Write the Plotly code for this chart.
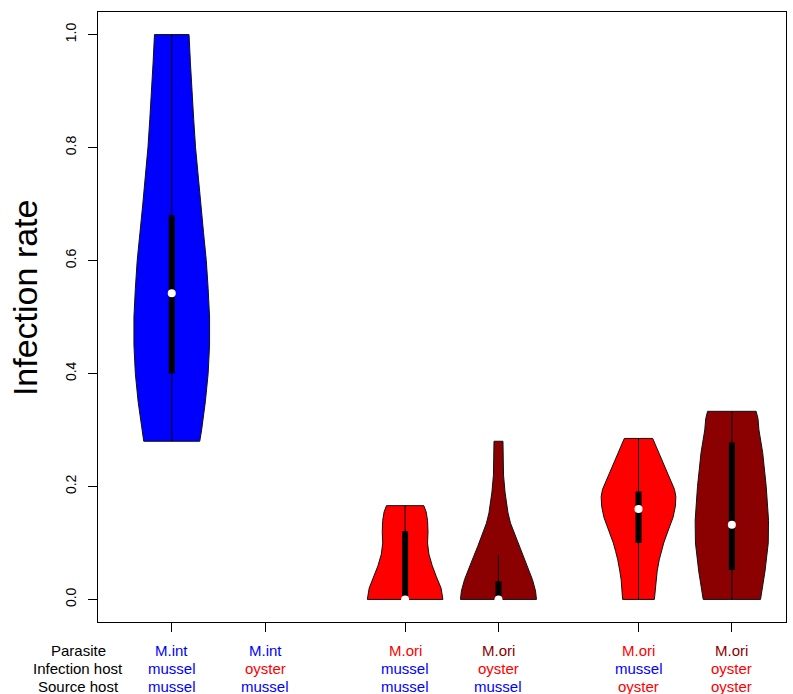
import plotly.graph_objects as go

# ---------------- data ----------------
positions = [1, 2, 3.5, 4.5, 6, 7]
parasite = ["M.int", "M.int", "M.ori", "M.ori", "M.ori", "M.ori"]
infection_host = ["mussel", "oyster", "mussel", "oyster", "mussel", "oyster"]
source_host = ["mussel", "mussel", "mussel", "mussel", "oyster", "oyster"]

BLUE, RED, DARKRED = "#0000FF", "#FF0000", "#8B0000"
host_color = {"mussel": BLUE, "oyster": RED}
parasite_colors = [BLUE, BLUE, RED, DARKRED, RED, DARKRED]
fill_colors = [BLUE, None, RED, DARKRED, RED, DARKRED]

# density profiles (y value, half-width in x units)
v1_y = [0.28, 0.30, 0.35, 0.40, 0.45, 0.50, 0.55, 0.60, 0.65, 0.70, 0.75, 0.80, 0.85, 0.90, 0.95, 1.00]
v1_w = [0.30, 0.32, 0.36, 0.39, 0.405, 0.405, 0.39, 0.37, 0.34, 0.31, 0.28, 0.255, 0.235, 0.215, 0.20, 0.185]

v3_y = [0.0, 0.02, 0.04, 0.06, 0.08, 0.10, 0.12, 0.14, 0.155, 0.166]
v3_w = [0.405, 0.385, 0.335, 0.29, 0.255, 0.24, 0.245, 0.24, 0.225, 0.20]

v4_y = [0.0, 0.015, 0.035, 0.065, 0.094, 0.123, 0.135, 0.153, 0.17, 0.19, 0.22, 0.25, 0.28]
v4_w = [0.407, 0.397, 0.364, 0.293, 0.222, 0.155, 0.129, 0.102, 0.086, 0.07, 0.054, 0.048, 0.048]

v5_y = [0.0, 0.035, 0.05, 0.07, 0.085, 0.10, 0.123, 0.145, 0.165, 0.182, 0.195, 0.21, 0.229, 0.245, 0.259, 0.27, 0.285]
v5_w = [0.17, 0.186, 0.20, 0.222, 0.245, 0.27, 0.32, 0.37, 0.395, 0.40, 0.385, 0.345, 0.295, 0.26, 0.222, 0.19, 0.152]

v6_y = [0.0, 0.02, 0.05, 0.10, 0.14, 0.20, 0.26, 0.30, 0.32, 0.333]
v6_w = [0.307, 0.325, 0.355, 0.39, 0.393, 0.368, 0.33, 0.29, 0.28, 0.26]

profiles = [(v1_y, v1_w), None, (v3_y, v3_w), (v4_y, v4_w), (v5_y, v5_w), (v6_y, v6_w)]

# summary statistics: min, q1, median, q3, max
stat_min = [0.28, None, 0.0, 0.0, 0.0, 0.0]
stat_q1 = [0.40, None, 0.0, 0.0, 0.10, 0.052]
stat_med = [0.542, None, 0.0, 0.0, 0.16, 0.132]
stat_q3 = [0.68, None, 0.121, 0.032, 0.191, 0.278]
stat_max = [1.0, None, 0.166, 0.079, 0.285, 0.333]

y_ticks = [0.0, 0.2, 0.4, 0.6, 0.8, 1.0]
row_titles = ["Parasite", "Infection host", "Source host"]

# ---------------- figure ----------------
fig = go.Figure()

for i, pos in enumerate(positions):
    prof = profiles[i]
    if prof is None:
        continue
    ys, ws = prof
    xs = [pos + w for w in ws] + [pos - w for w in reversed(ws)]
    yy = list(ys) + list(reversed(ys))
    xs.append(xs[0]); yy.append(yy[0])
    fig.add_trace(go.Scatter(x=xs, y=yy, mode="lines", fill="toself",
                             fillcolor=fill_colors[i],
                             line=dict(color="#111111", width=1),
                             hoverinfo="skip", showlegend=False))
    # whisker line
    fig.add_trace(go.Scatter(x=[pos, pos], y=[stat_min[i], stat_max[i]], mode="lines",
                             line=dict(color="black", width=1),
                             hoverinfo="skip", showlegend=False))
    # box
    fig.add_trace(go.Scatter(x=[pos, pos], y=[stat_q1[i], stat_q3[i]], mode="lines",
                             line=dict(color="black", width=6),
                             hoverinfo="skip", showlegend=False))
    # median
    fig.add_trace(go.Scatter(x=[pos], y=[stat_med[i]], mode="markers",
                             marker=dict(color="white", size=8, line=dict(width=0)),
                             cliponaxis=False,
                             hoverinfo="skip", showlegend=False))

FONT = "Liberation Sans, Arial, Helvetica, sans-serif"

annotations = []
rows = [parasite, infection_host, source_host]
row_shift = [-28, -46, -64]
for r, row in enumerate(rows):
    annotations.append(dict(x=0, xref="paper", y=0, yref="paper", text=row_titles[r],
                            showarrow=False, xanchor="center", yanchor="middle",
                            xshift=-20, yshift=row_shift[r],
                            font=dict(family=FONT, size=15, color="black")))
    for i, pos in enumerate(positions):
        col = parasite_colors[i] if r == 0 else host_color[row[i]]
        annotations.append(dict(x=pos, xref="x", y=0, yref="paper", text=row[i],
                                showarrow=False, xanchor="center", yanchor="middle",
                                yshift=row_shift[r],
                                font=dict(family=FONT, size=15, color=col)))

annotations.append(dict(x=0, xref="paper", y=0.531, yref="paper", text="Infection rate",
                        showarrow=False, textangle=-90, xanchor="center", yanchor="middle",
                        xshift=-73, font=dict(family=FONT, size=34, color="black")))

fig.update_layout(
    width=793, height=694,
    margin=dict(l=98, r=7, t=12, b=72),
    paper_bgcolor="white", plot_bgcolor="white",
    font=dict(family=FONT, color="black"),
    showlegend=False,
    annotations=annotations,
    xaxis=dict(range=[0.21, 7.58], tickvals=positions, ticktext=[""] * len(positions),
               showgrid=False, zeroline=False, showline=True, mirror=True,
               linecolor="black", linewidth=1, ticks="outside", ticklen=9,
               tickcolor="black", tickwidth=1),
    yaxis=dict(range=[-0.04, 1.04], tickvals=y_ticks, ticktext=[f"{v:.1f}" for v in y_ticks],
               tickangle=-90, tickfont=dict(family=FONT, size=14, color="black"),
               showgrid=False, zeroline=False, showline=True, mirror=True,
               linecolor="black", linewidth=1, ticks="outside", ticklen=9,
               tickcolor="black", tickwidth=1, ticklabelstandoff=6),
)

fig.write_html("out.html", config={"displayModeBar": False},
               post_script="document.body.style.margin='0';document.body.style.overflow='hidden';")
